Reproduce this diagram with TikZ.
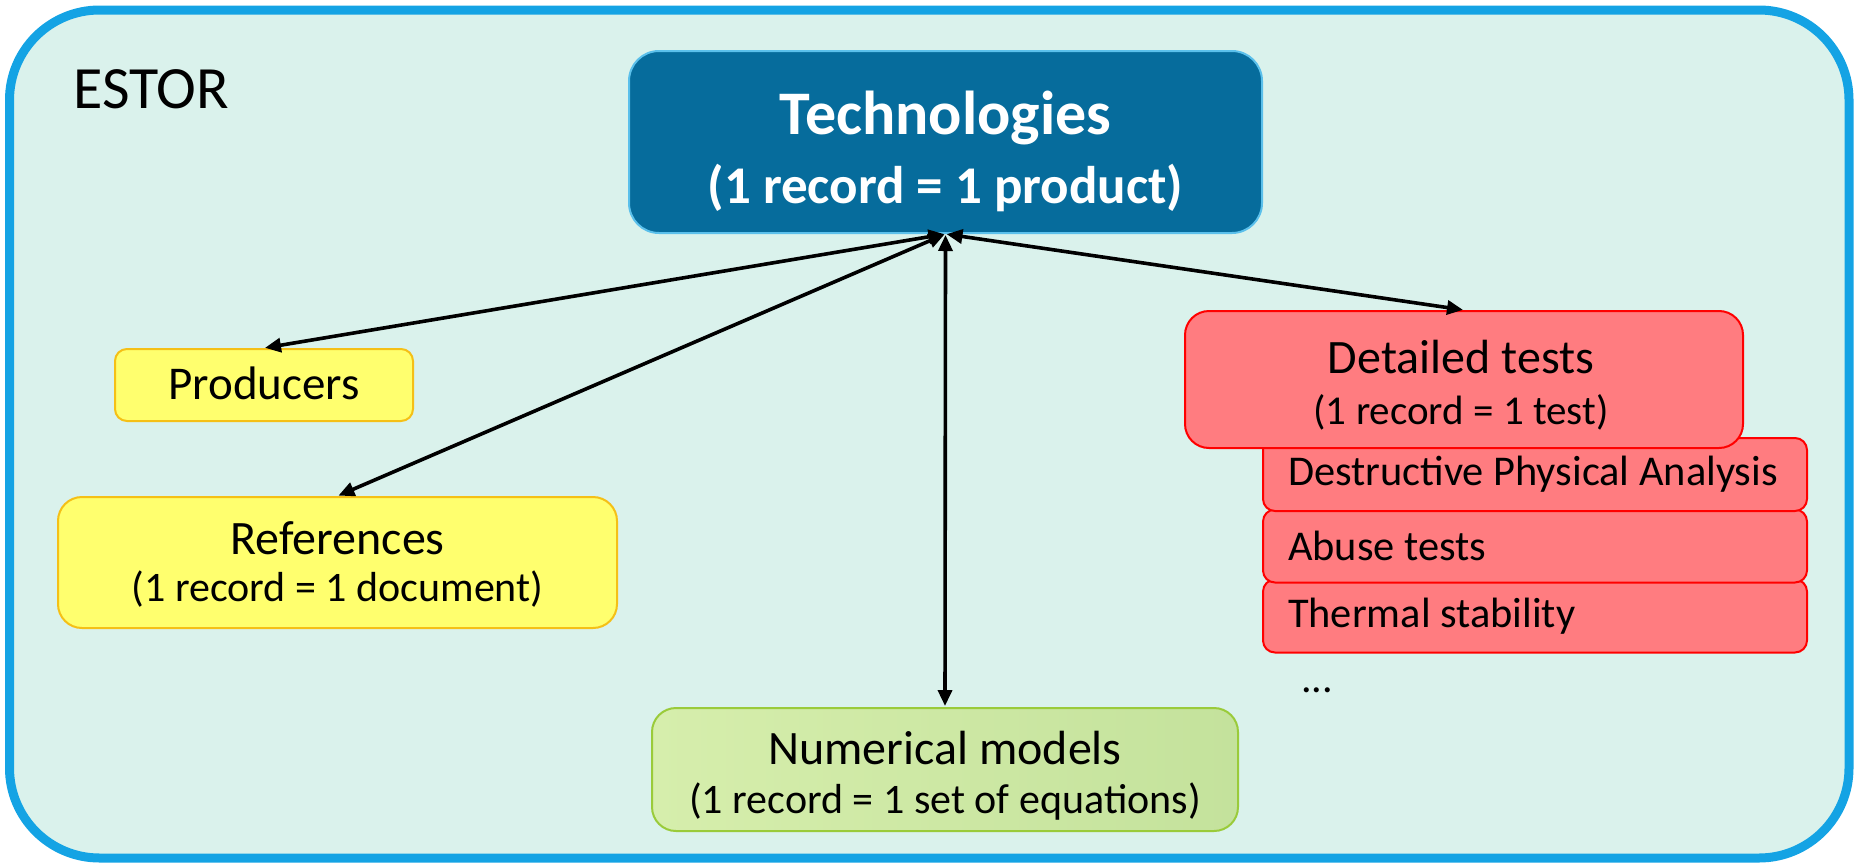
\documentclass[tikz,border=0pt]{standalone}
\usepackage{fontspec}
\setmainfont{Carlito}
\usetikzlibrary{arrows.meta}
\definecolor{bgmint}{RGB}{218,242,236}
\definecolor{outerblue}{RGB}{20,163,228}
\definecolor{techblue}{RGB}{6,108,156}
\definecolor{techedge}{RGB}{91,192,235}
\definecolor{yelfill}{RGB}{255,255,110}
\definecolor{yeledge}{RGB}{245,192,22}
\definecolor{grnA}{RGB}{214,238,172}
\definecolor{grnB}{RGB}{196,226,156}
\definecolor{grnedge}{RGB}{154,203,58}
\definecolor{redfill}{RGB}{255,124,128}
\definecolor{rededge}{RGB}{255,0,0}
\tikzset{
  box/.style={draw, line width=1pt, inner sep=0pt},
  techbox/.style={box, fill=techblue, draw=techedge, rounded corners=15pt},
  yelbox/.style={box, fill=yelfill, draw=yeledge},
  grnbox/.style={box, left color=grnA, right color=grnB, draw=grnedge, rounded corners=12pt},
  redbox/.style={box, fill=redfill, draw=rededge, rounded corners=12pt},
  subbox/.style={draw=rededge, fill=redfill, line width=1pt, rounded corners=6pt, inner xsep=12.5pt, inner ysep=0pt,
     minimum height=36.5pt, anchor=west, font=\fontsize{21.2}{25}\selectfont},
  lbl/.style={anchor=base, inner sep=0pt},
  arr/.style={{Triangle[length=8pt,width=7pt]}-{Triangle[length=8pt,width=7pt]}, line width=1.8pt, black, shorten <=0.5pt, shorten >=0.5pt}
}
\begin{document}
\begin{tikzpicture}[x=0.5pt,y=-0.5pt]
\useasboundingbox (0,0) rectangle (1857,867);
\draw[line width=4.5pt, draw=outerblue, fill=bgmint, rounded corners=45pt] (9.5,10) rectangle (1849,858);
\node[anchor=base west, inner sep=0pt, font=\fontsize{30}{36}\selectfont] (estor) at (73,108) {ESTOR};

% Technologies
\node[techbox, minimum width=316.5pt, minimum height=91pt] (tech) at (945.5,142) {};
\node[lbl, text=white, font=\fontsize{31}{36}\selectfont\bfseries] (techA) at (945.5,134) {Technologies};
\node[lbl, text=white, font=\fontsize{26.5}{32}\selectfont\bfseries] (techB) at (945.5,203) {(1 record = 1 product)};

% Producers
\node[yelbox, rounded corners=6pt, minimum width=149pt, minimum height=36pt] (prod) at (264,385) {};
\node[lbl, font=\fontsize{23.5}{28}\selectfont] (prodA) at (264,399) {Producers};

% References
\node[yelbox, rounded corners=12pt, minimum width=279.5pt, minimum height=65.5pt] (refs) at (337.5,562.5) {};
\node[lbl, font=\fontsize{24}{28}\selectfont] (refsA) at (337.5,554) {References};
\node[lbl, font=\fontsize{21}{25}\selectfont] (refsB) at (337.5,601) {(1 record = 1 document)};

% Numerical models
\node[grnbox, minimum width=293pt, minimum height=61.5pt] (num) at (945,769.5) {};
\node[lbl, font=\fontsize{24}{28}\selectfont] (numA) at (945,764) {Numerical models};
\node[lbl, font=\fontsize{21}{25}\selectfont] (numB) at (945,813) {(1 record = 1 set of equations)};

% Detailed tests sub-boxes
\node[subbox] (therm) at (1262,616) {\makebox[247pt][l]{Thermal stability}};
\node[subbox] (abuse) at (1262,546) {\makebox[247pt][l]{Abuse tests}};
\node[subbox] (dpa) at (1262,474.5) {\makebox[247pt][l]{Destructive Physical Analysis}};

% Detailed tests
\node[redbox, minimum width=279pt, minimum height=68.5pt] (det) at (1464,379.5) {};
\node[lbl, font=\fontsize{24}{28}\selectfont] (detA) at (1461,373) {Detailed tests};
\node[lbl, font=\fontsize{20.5}{25}\selectfont] (detB) at (1461,424) {(1 record = 1 test)};

\node[lbl, font=\fontsize{21}{25}\selectfont] (dots) at (1317,692) {...};

\draw[arr] (tech.south) -- (prod.north);
\draw[arr] (tech.south) -- (refs.north);
\draw[arr] (tech.south) -- (num.north);
\draw[arr] (tech.south) -- (det.north);
\end{tikzpicture}
\end{document}
